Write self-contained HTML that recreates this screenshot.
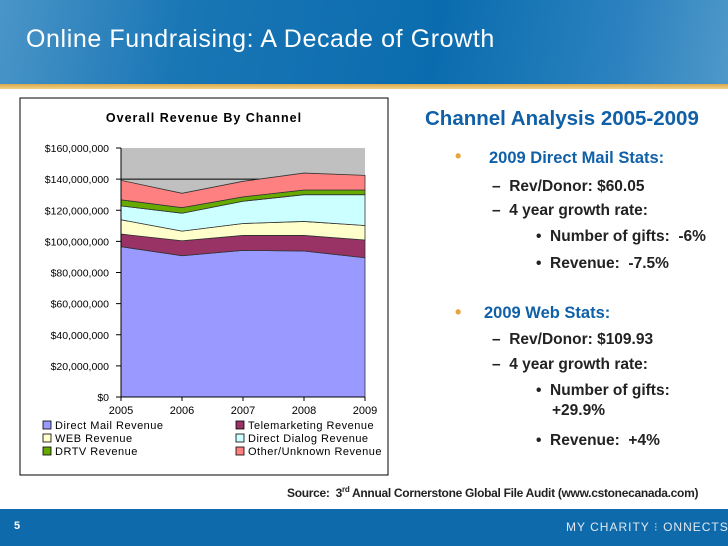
<!DOCTYPE html>
<html><head><meta charset="utf-8"><style>
body{margin:0;width:728px;height:546px;overflow:hidden;background:#fff;font-family:"Liberation Sans",sans-serif;position:relative}
.hdr{position:absolute;left:0;top:0;width:728px;height:84px;background:linear-gradient(100deg,#4a95c8 0%,#1a76b5 25%,#0a6cae 60%,#2c82bf 85%,#4f98c9 100%)}
.gold{position:absolute;left:0;top:84px;width:728px;height:5px;background:linear-gradient(#d9a94a,#f2d089)}
.title{position:absolute;left:26px;top:25px;color:#fff;font-size:25px;letter-spacing:0.6px;font-family:"Liberation Sans",sans-serif}
.ra{position:absolute;font-family:"Liberation Sans",sans-serif;font-weight:bold;color:#222;font-size:15.5px;white-space:nowrap}
.blue{color:#1060a8}
.footer{position:absolute;left:0;top:509px;width:728px;height:37px;background:#0f6aab}
</style></head><body>
<div class="hdr"></div>
<div class="gold"></div>
<div class="title">Online Fundraising: A Decade of Growth</div>
<svg id="chart" style="position:absolute;left:0;top:0" width="728" height="546"></svg>
<div class="ra blue" style="left:425px;top:107px;font-size:20.5px">Channel Analysis 2005-2009</div>
<div class="ra" style="left:455px;top:146px;font-size:18px;color:#e8a33a">•</div>
<div class="ra blue" style="left:489px;top:149px;font-size:16.5px">2009 Direct Mail Stats:</div>
<div class="ra" style="left:492px;top:178px">– &nbsp;Rev/Donor: $60.05</div>
<div class="ra" style="left:492px;top:202px">– &nbsp;4 year growth rate:</div>
<div class="ra" style="left:536px;top:228px">• &nbsp;Number of gifts: &nbsp;-6%</div>
<div class="ra" style="left:536px;top:255px">• &nbsp;Revenue: &nbsp;-7.5%</div>
<div class="ra" style="left:455px;top:302px;font-size:18px;color:#e8a33a">•</div>
<div class="ra blue" style="left:484px;top:304px;font-size:16.5px">2009 Web Stats:</div>
<div class="ra" style="left:492px;top:331px">– &nbsp;Rev/Donor: $109.93</div>
<div class="ra" style="left:492px;top:356px">– &nbsp;4 year growth rate:</div>
<div class="ra" style="left:536px;top:382px">• &nbsp;Number of gifts:</div>
<div class="ra" style="left:552px;top:402px">+29.9%</div>
<div class="ra" style="left:536px;top:432px">• &nbsp;Revenue: &nbsp;+4%</div>
<div class="ra" style="left:287px;top:485px;font-size:12px;letter-spacing:-0.3px">Source: &nbsp;3<sup style="font-size:8px">rd</sup> Annual Cornerstone Global File Audit (www.cstonecanada.com)</div>
<div class="footer"></div>
<div class="ra" style="left:14px;top:520px;color:#fff;font-size:11px">5</div>
<div class="ra" style="left:566px;top:520px;color:#dfe8f0;font-weight:normal;font-size:12px;letter-spacing:1px">MY CHARITY <span style="color:#9cc">⁝</span> ONNECTS</div>
<script>
const years=['2005','2006','2007','2008','2009'];
const directMail=[96.6,90.8,94.2,93.8,89.5];
const telemarketing=[8.1,9.6,9.6,10,11.4];
const web=[9.2,6.2,7.7,9,9.3];
const directDialog=[8.9,11.5,14.3,17.2,19.8];
const drtv=[3.9,3.6,2.8,3,3];
const other=[12.5,9.2,10,10.9,9.4];
const yTicks=[0,20,40,60,80,100,120,140,160];
const series=[
 {name:'Direct Mail Revenue',v:directMail,c:'#9999ff',id:'direct-mail'},
 {name:'Telemarketing Revenue',v:telemarketing,c:'#993366',id:'telemarketing'},
 {name:'WEB Revenue',v:web,c:'#ffffcc',id:'web'},
 {name:'Direct Dialog Revenue',v:directDialog,c:'#ccffff',id:'direct-dialog'},
 {name:'DRTV Revenue',v:drtv,c:'#66aa00',id:'drtv'},
 {name:'Other/Unknown Revenue',v:other,c:'#ff8080',id:'other'}];
const svg=document.getElementById('chart');const NS='http://www.w3.org/2000/svg';
function mk(t,a,p){const e=document.createElementNS(NS,t);for(const k in a)e.setAttribute(k,a[k]);(p||svg).appendChild(e);return e;}
const X0=121,X1=365,Y0=397,Y1=148;
const x=i=>X0+(X1-X0)*i/(years.length-1);
const y=v=>Y0-(Y0-Y1)*v/160;
let b=mk('rect',{x:20,y:98,width:368,height:377,fill:'#fff',stroke:'#000','stroke-width':1});

let t=mk('text',{x:204,y:122,'text-anchor':'middle','font-size':12.5,'font-weight':'bold','font-family':'Liberation Sans','letter-spacing':'1'});t.textContent='Overall Revenue By Channel';

let pa=mk('rect',{x:X0,y:Y1,width:X1-X0,height:Y0-Y1,fill:'#c0c0c0'});

let gl=mk('line',{x1:X0,x2:X1,y1:y(140),y2:y(140),stroke:'#000','stroke-width':1});

let base=years.map(()=>0);
series.forEach(s=>{const top=base.map((bv,i)=>bv+s.v[i]);
 let d='M'+top.map((v,i)=>x(i)+','+y(v)).join(' L');
 for(let i=years.length-1;i>=0;i--)d+=' L'+x(i)+','+y(base[i]);
 const p=mk('path',{d:d+'Z',fill:s.c,stroke:'#333','stroke-width':0.8});
 
 base=top;});
mk('line',{x1:X0,x2:X0,y1:Y1,y2:Y0,stroke:'#000'});
mk('line',{x1:X0,x2:X1,y1:Y0,y2:Y0,stroke:'#000'});
yTicks.forEach(v=>{mk('line',{x1:X0-5,x2:X0,y1:y(v),y2:y(v),stroke:'#000'});
 const l=mk('text',{x:X0-12,y:y(v)+4,'text-anchor':'end','font-size':10.5,'font-family':'Liberation Sans'});
 l.textContent='$'+(v*1e6).toLocaleString('en-US');
 });
years.forEach((yr,i)=>{mk('line',{x1:x(i),x2:x(i),y1:Y0,y2:Y0+4,stroke:'#000'});
 const l=mk('text',{x:x(i),y:414,'text-anchor':'middle','font-size':11,'font-family':'Liberation Sans'});l.textContent=yr;
 });
series.forEach((s,i)=>{const lx=i%2?248:55,ly=428+Math.floor(i/2)*13;
 const g=mk('g',{});
 mk('rect',{x:lx-12,y:ly-7,width:8,height:8,fill:s.c,stroke:'#000','stroke-width':0.8},g);
 const l=mk('text',{x:lx,y:ly+1,'font-size':11,'font-family':'Liberation Sans','letter-spacing':'0.5'},g);l.textContent=s.name;});
</script>
</body></html>
